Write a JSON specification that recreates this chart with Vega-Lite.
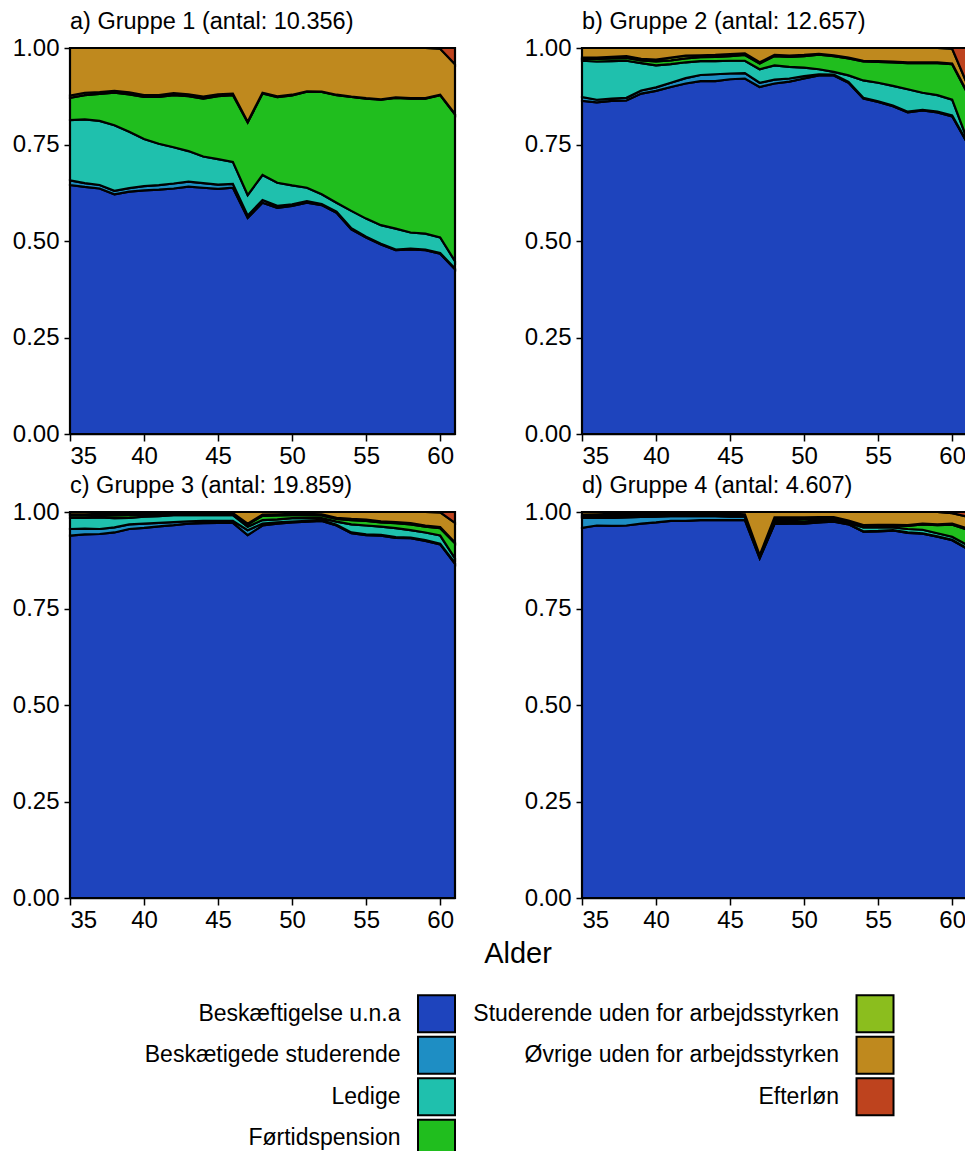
{
  "$schema": "https://vega.github.io/schema/vega-lite/v6.json",
  "background": "white",
  "padding": {"left": 12, "top": 9, "right": 0, "bottom": 0},
  "config": {
    "font": "Liberation Sans",
    "view": {"stroke": null},
    "axis": {"labelFontSize": 24, "labelColor": "black", "labelFont": "Liberation Sans", "tickColor": "black", "domainColor": "black", "tickSize": 7, "labelPadding": 3, "grid": false, "domainWidth": 1.5, "tickWidth": 1.5},
    "axisY": {"labelPadding": 5, "tickSize": 6}
  },
  "datasets": {
    "cats": [
      {"key": "b1", "cat": "Beskæftigelse u.n.a", "k": 1},
      {"key": "b2", "cat": "Beskætigede studerende", "k": 2},
      {"key": "l", "cat": "Ledige", "k": 3},
      {"key": "f", "cat": "Førtidspension", "k": 4},
      {"key": "s", "cat": "Studerende uden for arbejdsstyrken", "k": 5},
      {"key": "o", "cat": "Øvrige uden for arbejdsstyrken", "k": 6},
      {"key": "e", "cat": "Efterløn", "k": 7}
    ],
    "legend": [
      {"cat": "Beskæftigelse u.n.a", "col": 1, "row": 1},
      {"cat": "Beskætigede studerende", "col": 1, "row": 2},
      {"cat": "Ledige", "col": 1, "row": 3},
      {"cat": "Førtidspension", "col": 1, "row": 4},
      {"cat": "Studerende uden for arbejdsstyrken", "col": 2, "row": 1},
      {"cat": "Øvrige uden for arbejdsstyrken", "col": 2, "row": 2},
      {"cat": "Efterløn", "col": 2, "row": 3}
    ]
  },
  "spacing": 8,
  "vconcat": [
    {
      "data": {"values": [
        {"g": "a) Gruppe 1 (antal: 10.356)", "age": 35, "b1": 0.645, "b2": 0.012, "l": 0.156, "f": 0.058, "s": 0.006, "o": 0.123, "e": 0},
        {"g": "a) Gruppe 1 (antal: 10.356)", "age": 36, "b1": 0.640, "b2": 0.010, "l": 0.165, "f": 0.063, "s": 0.006, "o": 0.116, "e": 0},
        {"g": "a) Gruppe 1 (antal: 10.356)", "age": 37, "b1": 0.636, "b2": 0.009, "l": 0.166, "f": 0.070, "s": 0.005, "o": 0.114, "e": 0},
        {"g": "a) Gruppe 1 (antal: 10.356)", "age": 38, "b1": 0.621, "b2": 0.009, "l": 0.170, "f": 0.084, "s": 0.005, "o": 0.111, "e": 0},
        {"g": "a) Gruppe 1 (antal: 10.356)", "age": 39, "b1": 0.628, "b2": 0.009, "l": 0.146, "f": 0.097, "s": 0.005, "o": 0.115, "e": 0},
        {"g": "a) Gruppe 1 (antal: 10.356)", "age": 40, "b1": 0.631, "b2": 0.011, "l": 0.122, "f": 0.109, "s": 0.005, "o": 0.122, "e": 0},
        {"g": "a) Gruppe 1 (antal: 10.356)", "age": 41, "b1": 0.633, "b2": 0.012, "l": 0.107, "f": 0.121, "s": 0.005, "o": 0.122, "e": 0},
        {"g": "a) Gruppe 1 (antal: 10.356)", "age": 42, "b1": 0.636, "b2": 0.013, "l": 0.094, "f": 0.135, "s": 0.005, "o": 0.117, "e": 0},
        {"g": "a) Gruppe 1 (antal: 10.356)", "age": 43, "b1": 0.641, "b2": 0.013, "l": 0.079, "f": 0.142, "s": 0.005, "o": 0.120, "e": 0},
        {"g": "a) Gruppe 1 (antal: 10.356)", "age": 44, "b1": 0.638, "b2": 0.012, "l": 0.069, "f": 0.150, "s": 0.005, "o": 0.126, "e": 0},
        {"g": "a) Gruppe 1 (antal: 10.356)", "age": 45, "b1": 0.635, "b2": 0.011, "l": 0.066, "f": 0.163, "s": 0.005, "o": 0.120, "e": 0},
        {"g": "a) Gruppe 1 (antal: 10.356)", "age": 46, "b1": 0.638, "b2": 0.010, "l": 0.057, "f": 0.173, "s": 0.004, "o": 0.118, "e": 0},
        {"g": "a) Gruppe 1 (antal: 10.356)", "age": 47, "b1": 0.560, "b2": 0.006, "l": 0.053, "f": 0.188, "s": 0.002, "o": 0.191, "e": 0},
        {"g": "a) Gruppe 1 (antal: 10.356)", "age": 48, "b1": 0.599, "b2": 0.007, "l": 0.065, "f": 0.211, "s": 0.002, "o": 0.116, "e": 0},
        {"g": "a) Gruppe 1 (antal: 10.356)", "age": 49, "b1": 0.586, "b2": 0.005, "l": 0.060, "f": 0.222, "s": 0.002, "o": 0.125, "e": 0},
        {"g": "a) Gruppe 1 (antal: 10.356)", "age": 50, "b1": 0.591, "b2": 0.004, "l": 0.049, "f": 0.233, "s": 0.002, "o": 0.121, "e": 0},
        {"g": "a) Gruppe 1 (antal: 10.356)", "age": 51, "b1": 0.599, "b2": 0.004, "l": 0.035, "f": 0.249, "s": 0.001, "o": 0.112, "e": 0},
        {"g": "a) Gruppe 1 (antal: 10.356)", "age": 52, "b1": 0.593, "b2": 0.003, "l": 0.025, "f": 0.265, "s": 0.001, "o": 0.113, "e": 0},
        {"g": "a) Gruppe 1 (antal: 10.356)", "age": 53, "b1": 0.573, "b2": 0.003, "l": 0.023, "f": 0.279, "s": 0.001, "o": 0.121, "e": 0},
        {"g": "a) Gruppe 1 (antal: 10.356)", "age": 54, "b1": 0.530, "b2": 0.003, "l": 0.045, "f": 0.295, "s": 0.001, "o": 0.126, "e": 0},
        {"g": "a) Gruppe 1 (antal: 10.356)", "age": 55, "b1": 0.509, "b2": 0.002, "l": 0.047, "f": 0.311, "s": 0.001, "o": 0.130, "e": 0},
        {"g": "a) Gruppe 1 (antal: 10.356)", "age": 56, "b1": 0.491, "b2": 0.002, "l": 0.048, "f": 0.325, "s": 0.001, "o": 0.133, "e": 0},
        {"g": "a) Gruppe 1 (antal: 10.356)", "age": 57, "b1": 0.476, "b2": 0.002, "l": 0.054, "f": 0.339, "s": 0.001, "o": 0.128, "e": 0},
        {"g": "a) Gruppe 1 (antal: 10.356)", "age": 58, "b1": 0.478, "b2": 0.002, "l": 0.042, "f": 0.347, "s": 0.001, "o": 0.130, "e": 0},
        {"g": "a) Gruppe 1 (antal: 10.356)", "age": 59, "b1": 0.476, "b2": 0.002, "l": 0.041, "f": 0.350, "s": 0.001, "o": 0.130, "e": 0},
        {"g": "a) Gruppe 1 (antal: 10.356)", "age": 60, "b1": 0.467, "b2": 0.002, "l": 0.040, "f": 0.369, "s": 0.001, "o": 0.119, "e": 0.002},
        {"g": "a) Gruppe 1 (antal: 10.356)", "age": 61, "b1": 0.427, "b2": 0.002, "l": 0.019, "f": 0.380, "s": 0.001, "o": 0.129, "e": 0.042},

        {"g": "b) Gruppe 2 (antal: 12.657)", "age": 35, "b1": 0.863, "b2": 0.010, "l": 0.094, "f": 0.005, "s": 0.003, "o": 0.025, "e": 0},
        {"g": "b) Gruppe 2 (antal: 12.657)", "age": 36, "b1": 0.859, "b2": 0.007, "l": 0.099, "f": 0.007, "s": 0.003, "o": 0.025, "e": 0},
        {"g": "b) Gruppe 2 (antal: 12.657)", "age": 37, "b1": 0.863, "b2": 0.006, "l": 0.097, "f": 0.007, "s": 0.004, "o": 0.023, "e": 0},
        {"g": "b) Gruppe 2 (antal: 12.657)", "age": 38, "b1": 0.864, "b2": 0.007, "l": 0.096, "f": 0.007, "s": 0.005, "o": 0.021, "e": 0},
        {"g": "b) Gruppe 2 (antal: 12.657)", "age": 39, "b1": 0.882, "b2": 0.008, "l": 0.071, "f": 0.007, "s": 0.004, "o": 0.028, "e": 0},
        {"g": "b) Gruppe 2 (antal: 12.657)", "age": 40, "b1": 0.889, "b2": 0.009, "l": 0.057, "f": 0.010, "s": 0.005, "o": 0.030, "e": 0},
        {"g": "b) Gruppe 2 (antal: 12.657)", "age": 41, "b1": 0.899, "b2": 0.011, "l": 0.048, "f": 0.010, "s": 0.007, "o": 0.025, "e": 0},
        {"g": "b) Gruppe 2 (antal: 12.657)", "age": 42, "b1": 0.908, "b2": 0.014, "l": 0.041, "f": 0.010, "s": 0.007, "o": 0.020, "e": 0},
        {"g": "b) Gruppe 2 (antal: 12.657)", "age": 43, "b1": 0.914, "b2": 0.016, "l": 0.036, "f": 0.010, "s": 0.005, "o": 0.019, "e": 0},
        {"g": "b) Gruppe 2 (antal: 12.657)", "age": 44, "b1": 0.914, "b2": 0.018, "l": 0.034, "f": 0.011, "s": 0.005, "o": 0.018, "e": 0},
        {"g": "b) Gruppe 2 (antal: 12.657)", "age": 45, "b1": 0.919, "b2": 0.015, "l": 0.033, "f": 0.012, "s": 0.005, "o": 0.016, "e": 0},
        {"g": "b) Gruppe 2 (antal: 12.657)", "age": 46, "b1": 0.921, "b2": 0.014, "l": 0.032, "f": 0.015, "s": 0.004, "o": 0.014, "e": 0},
        {"g": "b) Gruppe 2 (antal: 12.657)", "age": 47, "b1": 0.899, "b2": 0.011, "l": 0.035, "f": 0.015, "s": 0.003, "o": 0.037, "e": 0},
        {"g": "b) Gruppe 2 (antal: 12.657)", "age": 48, "b1": 0.908, "b2": 0.010, "l": 0.037, "f": 0.024, "s": 0.003, "o": 0.018, "e": 0},
        {"g": "b) Gruppe 2 (antal: 12.657)", "age": 49, "b1": 0.913, "b2": 0.008, "l": 0.030, "f": 0.026, "s": 0.003, "o": 0.020, "e": 0},
        {"g": "b) Gruppe 2 (antal: 12.657)", "age": 50, "b1": 0.921, "b2": 0.006, "l": 0.022, "f": 0.030, "s": 0.003, "o": 0.018, "e": 0},
        {"g": "b) Gruppe 2 (antal: 12.657)", "age": 51, "b1": 0.929, "b2": 0.003, "l": 0.013, "f": 0.038, "s": 0.002, "o": 0.015, "e": 0},
        {"g": "b) Gruppe 2 (antal: 12.657)", "age": 52, "b1": 0.929, "b2": 0.002, "l": 0.007, "f": 0.041, "s": 0.002, "o": 0.019, "e": 0},
        {"g": "b) Gruppe 2 (antal: 12.657)", "age": 53, "b1": 0.910, "b2": 0.002, "l": 0.017, "f": 0.044, "s": 0.002, "o": 0.025, "e": 0},
        {"g": "b) Gruppe 2 (antal: 12.657)", "age": 54, "b1": 0.869, "b2": 0.002, "l": 0.045, "f": 0.049, "s": 0.002, "o": 0.033, "e": 0},
        {"g": "b) Gruppe 2 (antal: 12.657)", "age": 55, "b1": 0.860, "b2": 0.002, "l": 0.048, "f": 0.054, "s": 0.002, "o": 0.034, "e": 0},
        {"g": "b) Gruppe 2 (antal: 12.657)", "age": 56, "b1": 0.849, "b2": 0.002, "l": 0.051, "f": 0.061, "s": 0.002, "o": 0.035, "e": 0},
        {"g": "b) Gruppe 2 (antal: 12.657)", "age": 57, "b1": 0.833, "b2": 0.002, "l": 0.058, "f": 0.068, "s": 0.002, "o": 0.037, "e": 0},
        {"g": "b) Gruppe 2 (antal: 12.657)", "age": 58, "b1": 0.838, "b2": 0.002, "l": 0.044, "f": 0.077, "s": 0.002, "o": 0.037, "e": 0},
        {"g": "b) Gruppe 2 (antal: 12.657)", "age": 59, "b1": 0.833, "b2": 0.002, "l": 0.043, "f": 0.083, "s": 0.002, "o": 0.037, "e": 0},
        {"g": "b) Gruppe 2 (antal: 12.657)", "age": 60, "b1": 0.823, "b2": 0.002, "l": 0.041, "f": 0.092, "s": 0.002, "o": 0.038, "e": 0.002},
        {"g": "b) Gruppe 2 (antal: 12.657)", "age": 61, "b1": 0.755, "b2": 0.002, "l": 0.008, "f": 0.120, "s": 0.002, "o": 0.021, "e": 0.092},

        {"g": "c) Gruppe 3 (antal: 19.859)", "age": 35, "b1": 0.939, "b2": 0.017, "l": 0.029, "f": 0.006, "s": 0.003, "o": 0.006, "e": 0},
        {"g": "c) Gruppe 3 (antal: 19.859)", "age": 36, "b1": 0.942, "b2": 0.015, "l": 0.028, "f": 0.006, "s": 0.003, "o": 0.006, "e": 0},
        {"g": "c) Gruppe 3 (antal: 19.859)", "age": 37, "b1": 0.943, "b2": 0.013, "l": 0.030, "f": 0.006, "s": 0.003, "o": 0.005, "e": 0},
        {"g": "c) Gruppe 3 (antal: 19.859)", "age": 38, "b1": 0.947, "b2": 0.013, "l": 0.024, "f": 0.007, "s": 0.004, "o": 0.005, "e": 0},
        {"g": "c) Gruppe 3 (antal: 19.859)", "age": 39, "b1": 0.956, "b2": 0.012, "l": 0.017, "f": 0.007, "s": 0.003, "o": 0.005, "e": 0},
        {"g": "c) Gruppe 3 (antal: 19.859)", "age": 40, "b1": 0.959, "b2": 0.011, "l": 0.018, "f": 0.005, "s": 0.003, "o": 0.004, "e": 0},
        {"g": "c) Gruppe 3 (antal: 19.859)", "age": 41, "b1": 0.963, "b2": 0.009, "l": 0.017, "f": 0.005, "s": 0.003, "o": 0.003, "e": 0},
        {"g": "c) Gruppe 3 (antal: 19.859)", "age": 42, "b1": 0.966, "b2": 0.008, "l": 0.018, "f": 0.003, "s": 0.002, "o": 0.003, "e": 0},
        {"g": "c) Gruppe 3 (antal: 19.859)", "age": 43, "b1": 0.970, "b2": 0.006, "l": 0.016, "f": 0.003, "s": 0.002, "o": 0.003, "e": 0},
        {"g": "c) Gruppe 3 (antal: 19.859)", "age": 44, "b1": 0.971, "b2": 0.006, "l": 0.015, "f": 0.003, "s": 0.002, "o": 0.003, "e": 0},
        {"g": "c) Gruppe 3 (antal: 19.859)", "age": 45, "b1": 0.972, "b2": 0.005, "l": 0.015, "f": 0.003, "s": 0.002, "o": 0.003, "e": 0},
        {"g": "c) Gruppe 3 (antal: 19.859)", "age": 46, "b1": 0.972, "b2": 0.005, "l": 0.015, "f": 0.003, "s": 0.002, "o": 0.003, "e": 0},
        {"g": "c) Gruppe 3 (antal: 19.859)", "age": 47, "b1": 0.940, "b2": 0.013, "l": 0.009, "f": 0.006, "s": 0.002, "o": 0.030, "e": 0},
        {"g": "c) Gruppe 3 (antal: 19.859)", "age": 48, "b1": 0.965, "b2": 0.005, "l": 0.009, "f": 0.011, "s": 0.003, "o": 0.007, "e": 0},
        {"g": "c) Gruppe 3 (antal: 19.859)", "age": 49, "b1": 0.970, "b2": 0.003, "l": 0.008, "f": 0.010, "s": 0.003, "o": 0.006, "e": 0},
        {"g": "c) Gruppe 3 (antal: 19.859)", "age": 50, "b1": 0.973, "b2": 0.002, "l": 0.009, "f": 0.008, "s": 0.003, "o": 0.005, "e": 0},
        {"g": "c) Gruppe 3 (antal: 19.859)", "age": 51, "b1": 0.975, "b2": 0.002, "l": 0.008, "f": 0.007, "s": 0.003, "o": 0.005, "e": 0},
        {"g": "c) Gruppe 3 (antal: 19.859)", "age": 52, "b1": 0.977, "b2": 0.002, "l": 0.005, "f": 0.007, "s": 0.003, "o": 0.006, "e": 0},
        {"g": "c) Gruppe 3 (antal: 19.859)", "age": 53, "b1": 0.965, "b2": 0.002, "l": 0.008, "f": 0.007, "s": 0.003, "o": 0.015, "e": 0},
        {"g": "c) Gruppe 3 (antal: 19.859)", "age": 54, "b1": 0.945, "b2": 0.002, "l": 0.021, "f": 0.011, "s": 0.003, "o": 0.018, "e": 0},
        {"g": "c) Gruppe 3 (antal: 19.859)", "age": 55, "b1": 0.940, "b2": 0.002, "l": 0.023, "f": 0.012, "s": 0.003, "o": 0.020, "e": 0},
        {"g": "c) Gruppe 3 (antal: 19.859)", "age": 56, "b1": 0.939, "b2": 0.002, "l": 0.021, "f": 0.011, "s": 0.003, "o": 0.024, "e": 0},
        {"g": "c) Gruppe 3 (antal: 19.859)", "age": 57, "b1": 0.933, "b2": 0.002, "l": 0.023, "f": 0.013, "s": 0.003, "o": 0.026, "e": 0},
        {"g": "c) Gruppe 3 (antal: 19.859)", "age": 58, "b1": 0.932, "b2": 0.002, "l": 0.019, "f": 0.015, "s": 0.003, "o": 0.029, "e": 0},
        {"g": "c) Gruppe 3 (antal: 19.859)", "age": 59, "b1": 0.925, "b2": 0.002, "l": 0.020, "f": 0.015, "s": 0.003, "o": 0.035, "e": 0},
        {"g": "c) Gruppe 3 (antal: 19.859)", "age": 60, "b1": 0.916, "b2": 0.002, "l": 0.021, "f": 0.019, "s": 0.003, "o": 0.038, "e": 0.001},
        {"g": "c) Gruppe 3 (antal: 19.859)", "age": 61, "b1": 0.866, "b2": 0.002, "l": 0.012, "f": 0.039, "s": 0.002, "o": 0.051, "e": 0.028},

        {"g": "d) Gruppe 4 (antal: 4.607)", "age": 35, "b1": 0.959, "b2": 0.026, "l": 0.002, "f": 0.003, "s": 0.003, "o": 0.007, "e": 0},
        {"g": "d) Gruppe 4 (antal: 4.607)", "age": 36, "b1": 0.965, "b2": 0.020, "l": 0.003, "f": 0.003, "s": 0.003, "o": 0.006, "e": 0},
        {"g": "d) Gruppe 4 (antal: 4.607)", "age": 37, "b1": 0.964, "b2": 0.021, "l": 0.004, "f": 0.003, "s": 0.003, "o": 0.005, "e": 0},
        {"g": "d) Gruppe 4 (antal: 4.607)", "age": 38, "b1": 0.965, "b2": 0.021, "l": 0.004, "f": 0.003, "s": 0.002, "o": 0.005, "e": 0},
        {"g": "d) Gruppe 4 (antal: 4.607)", "age": 39, "b1": 0.970, "b2": 0.017, "l": 0.003, "f": 0.003, "s": 0.003, "o": 0.004, "e": 0},
        {"g": "d) Gruppe 4 (antal: 4.607)", "age": 40, "b1": 0.973, "b2": 0.015, "l": 0.002, "f": 0.003, "s": 0.003, "o": 0.004, "e": 0},
        {"g": "d) Gruppe 4 (antal: 4.607)", "age": 41, "b1": 0.977, "b2": 0.012, "l": 0.002, "f": 0.003, "s": 0.003, "o": 0.003, "e": 0},
        {"g": "d) Gruppe 4 (antal: 4.607)", "age": 42, "b1": 0.977, "b2": 0.012, "l": 0.002, "f": 0.003, "s": 0.003, "o": 0.003, "e": 0},
        {"g": "d) Gruppe 4 (antal: 4.607)", "age": 43, "b1": 0.979, "b2": 0.010, "l": 0.002, "f": 0.003, "s": 0.003, "o": 0.003, "e": 0},
        {"g": "d) Gruppe 4 (antal: 4.607)", "age": 44, "b1": 0.979, "b2": 0.010, "l": 0.002, "f": 0.003, "s": 0.003, "o": 0.003, "e": 0},
        {"g": "d) Gruppe 4 (antal: 4.607)", "age": 45, "b1": 0.979, "b2": 0.009, "l": 0.002, "f": 0.003, "s": 0.003, "o": 0.004, "e": 0},
        {"g": "d) Gruppe 4 (antal: 4.607)", "age": 46, "b1": 0.979, "b2": 0.009, "l": 0.002, "f": 0.002, "s": 0.002, "o": 0.006, "e": 0},
        {"g": "d) Gruppe 4 (antal: 4.607)", "age": 47, "b1": 0.880, "b2": 0.003, "l": 0.002, "f": 0.002, "s": 0.001, "o": 0.112, "e": 0},
        {"g": "d) Gruppe 4 (antal: 4.607)", "age": 48, "b1": 0.969, "b2": 0.002, "l": 0.006, "f": 0.005, "s": 0.004, "o": 0.014, "e": 0},
        {"g": "d) Gruppe 4 (antal: 4.607)", "age": 49, "b1": 0.970, "b2": 0.002, "l": 0.005, "f": 0.005, "s": 0.004, "o": 0.014, "e": 0},
        {"g": "d) Gruppe 4 (antal: 4.607)", "age": 50, "b1": 0.970, "b2": 0.002, "l": 0.004, "f": 0.006, "s": 0.004, "o": 0.014, "e": 0},
        {"g": "d) Gruppe 4 (antal: 4.607)", "age": 51, "b1": 0.973, "b2": 0.001, "l": 0.004, "f": 0.005, "s": 0.004, "o": 0.013, "e": 0},
        {"g": "d) Gruppe 4 (antal: 4.607)", "age": 52, "b1": 0.975, "b2": 0.001, "l": 0.003, "f": 0.005, "s": 0.003, "o": 0.013, "e": 0},
        {"g": "d) Gruppe 4 (antal: 4.607)", "age": 53, "b1": 0.968, "b2": 0.001, "l": 0.003, "f": 0.004, "s": 0.002, "o": 0.022, "e": 0},
        {"g": "d) Gruppe 4 (antal: 4.607)", "age": 54, "b1": 0.949, "b2": 0.001, "l": 0.010, "f": 0.004, "s": 0.002, "o": 0.034, "e": 0},
        {"g": "d) Gruppe 4 (antal: 4.607)", "age": 55, "b1": 0.950, "b2": 0.001, "l": 0.009, "f": 0.005, "s": 0.002, "o": 0.033, "e": 0},
        {"g": "d) Gruppe 4 (antal: 4.607)", "age": 56, "b1": 0.952, "b2": 0.001, "l": 0.007, "f": 0.005, "s": 0.002, "o": 0.033, "e": 0},
        {"g": "d) Gruppe 4 (antal: 4.607)", "age": 57, "b1": 0.946, "b2": 0.001, "l": 0.009, "f": 0.008, "s": 0.002, "o": 0.034, "e": 0},
        {"g": "d) Gruppe 4 (antal: 4.607)", "age": 58, "b1": 0.944, "b2": 0.001, "l": 0.009, "f": 0.014, "s": 0.002, "o": 0.030, "e": 0},
        {"g": "d) Gruppe 4 (antal: 4.607)", "age": 59, "b1": 0.936, "b2": 0.001, "l": 0.008, "f": 0.021, "s": 0.002, "o": 0.032, "e": 0},
        {"g": "d) Gruppe 4 (antal: 4.607)", "age": 60, "b1": 0.927, "b2": 0.001, "l": 0.008, "f": 0.031, "s": 0.003, "o": 0.027, "e": 0.003},
        {"g": "d) Gruppe 4 (antal: 4.607)", "age": 61, "b1": 0.905, "b2": 0.001, "l": 0.009, "f": 0.040, "s": 0.003, "o": 0.030, "e": 0.012}
      ]},
      "transform": [
        {"fold": ["b1", "b2", "l", "f", "s", "o", "e"], "as": ["key", "value"]},
        {"lookup": "key", "from": {"data": {"name": "cats"}, "key": "key", "fields": ["cat", "k"]}}
      ],
      "facet": {
        "field": "g", "type": "nominal", "title": null,
        "header": {"labelFontSize": 23.5, "labelAnchor": "start", "labelAlign": "left", "labelColor": "black", "labelPadding": 3, "labelFont": "Liberation Sans"}
      },
      "columns": 2,
      "spacing": {"row": 5, "column": 64},
      "spec": {
        "width": 385,
        "height": 386,
        "mark": {"type": "area", "stroke": "black", "strokeWidth": 2.2, "opacity": 1},
        "encoding": {
          "x": {"field": "age", "type": "quantitative", "scale": {"domain": [35, 61], "nice": false, "zero": false}, "axis": {"values": [35, 40, 45, 50, 55, 60], "title": null}},
          "y": {"field": "value", "type": "quantitative", "stack": "normalize", "scale": {"domain": [0, 1]}, "axis": {"values": [0, 0.25, 0.5, 0.75, 1], "labelExpr": "format(datum.value, '.2f')", "title": null}},
          "color": {"field": "cat", "type": "nominal", "legend": null,
            "scale": {"domain": ["Beskæftigelse u.n.a", "Beskætigede studerende", "Ledige", "Førtidspension", "Studerende uden for arbejdsstyrken", "Øvrige uden for arbejdsstyrken", "Efterløn"],
                      "range": ["#1E44BD", "#1E8EC4", "#1FC0AD", "#20BE1E", "#8BBE1E", "#BF891E", "#BE431E"]}},
          "order": {"field": "k", "type": "quantitative"}
        }
      },
      "resolve": {"axis": {"x": "independent", "y": "independent"}}
    },
    {
      "data": {"name": "legend"},
      "width": 880,
      "height": 166,
      "title": {"text": "Alder", "fontSize": 29, "fontWeight": "normal", "anchor": "middle", "dx": 8, "offset": 22, "color": "black", "font": "Liberation Sans"},
      "encoding": {
        "x": {"field": "col", "type": "quantitative", "scale": {"domain": [0.1642, 2.171], "nice": false, "zero": false}, "axis": null},
        "y": {"field": "row", "type": "quantitative", "scale": {"domain": [4.5, 0.5], "nice": false, "zero": false}, "axis": null}
      },
      "layer": [
        {"mark": {"type": "square", "size": 1369, "stroke": "black", "strokeWidth": 2, "opacity": 1, "filled": true},
         "encoding": {"color": {"field": "cat", "type": "nominal", "legend": null}}},
        {"mark": {"type": "text", "align": "right", "baseline": "middle", "dx": -36, "fontSize": 23, "color": "black", "font": "Liberation Sans"},
         "encoding": {"text": {"field": "cat"}}}
      ]
    }
  ]
}
